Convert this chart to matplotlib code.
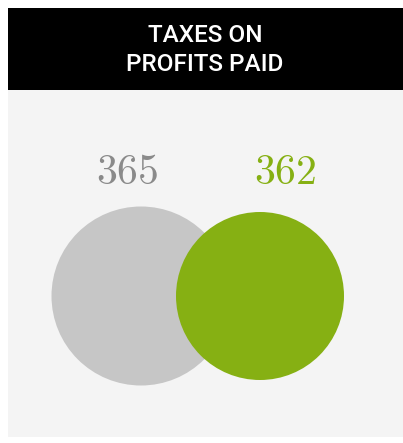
import matplotlib.pyplot as plt
from matplotlib.patches import Circle, Rectangle

plt.rcParams['mathtext.fontset'] = 'cm'

# data
labels = ['365', '362']
values = [365, 362]
colors = ['#c6c6c6', '#86b013']
text_colors = ['#8a8a8a', '#86b013']
title = 'TAXES ON\nPROFITS PAID'

# layout in pixels (figure is 403x443)
centers_x = [141, 260]
center_y = 296
radii = [89.5, 84]
label_x = [127, 285]
label_y = 172

fig = plt.figure(figsize=(4.03, 4.43), dpi=100)
fig.patch.set_facecolor('white')
ax = fig.add_axes([0, 0, 1, 1])
ax.set_xlim(0, 403)
ax.set_ylim(443, 0)
ax.axis('off')

# panel background and header
ax.add_patch(Rectangle((8, 90), 395, 347, facecolor='#f4f4f4', edgecolor='none'))
ax.add_patch(Rectangle((8, 8), 395, 82, facecolor='black', edgecolor='none'))
ax.text(205, 50, title, ha='center', va='center', color='white',
        fontsize=17.5, family='Roboto', fontweight='medium', linespacing=1.3)

# circles, gray first so green sits on top
for i, v in enumerate(values):
    ax.add_patch(Circle((centers_x[i], center_y), radii[i], facecolor=colors[i],
                        edgecolor='none', zorder=2 + i))
    ax.text(label_x[i], label_y, r'$\mathrm{%s}$' % labels[i], ha='center', va='center',
            color=text_colors[i], fontsize=30, zorder=5)

fig.savefig('out.png', dpi=100)
